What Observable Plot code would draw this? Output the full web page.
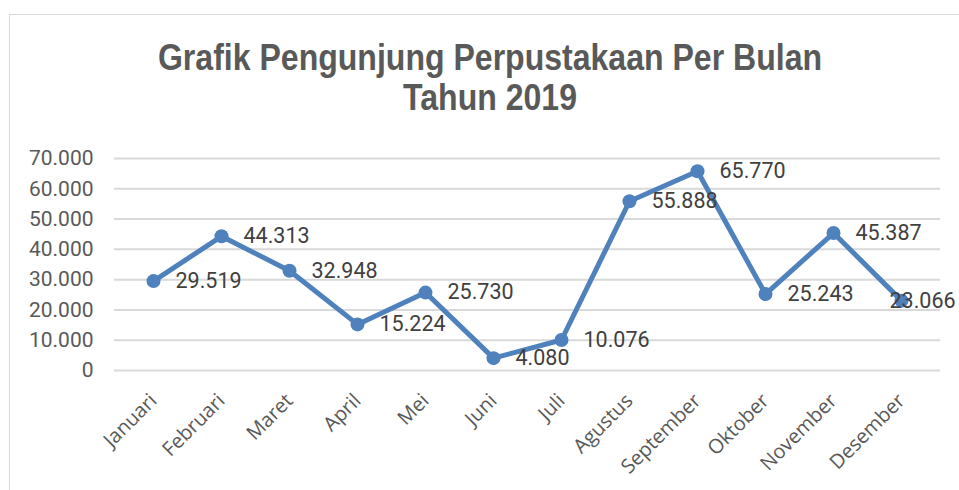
<!DOCTYPE html>
<html><head><meta charset="utf-8">
<script src="https://cdn.jsdelivr.net/npm/d3@7"></script>
<script src="https://cdn.jsdelivr.net/npm/@observablehq/plot@0.6"></script>
<style>
html,body{margin:0;padding:0;background:#fff;overflow:hidden;}
#wrap{position:relative;width:959px;height:490px;overflow:hidden;}
#frame{position:absolute;left:9px;top:14px;width:1000px;height:520px;border:1.5px solid #d9d9d9;box-sizing:border-box;}
#title{position:absolute;left:0;top:38px;width:980px;text-align:center;font-family:"Liberation Sans",Arial,sans-serif;font-weight:bold;font-size:36px;line-height:40px;color:#595959;transform:scaleX(0.89);transform-origin:490px 0;}
#chart{position:absolute;left:0;top:140px;}
</style></head>
<body><div id="wrap"><div id="frame"></div>
<div id="title">Grafik Pengunjung Perpustakaan Per Bulan<br>Tahun 2019</div>
<div id="chart"></div></div>
<script>
const months = ["Januari","Februari","Maret","April","Mei","Juni","Juli","Agustus","September","Oktober","November","Desember"];
const visitors = [29519,44313,32948,15224,25730,4080,10076,55888,65770,25243,45387,23066];
const yTicks = [0,10000,20000,30000,40000,50000,60000,70000];

const data = months.map((m,i)=>({month:m, value:visitors[i]}));
const fmt = v => v.toLocaleString("de-DE");

const plot = Plot.plot({
  width: 959, height: 350,
  marginTop: 18, marginBottom: 120, marginLeft: 114, marginRight: 19,
  style: {fontFamily: "Roboto, sans-serif", color: "#595959", background: "transparent", overflow: "visible"},
  x: {type: "point", domain: months, padding: 0.5, label: null},
  y: {domain: [0,70000], label: null},
  marks: [
    Plot.ruleY(yTicks, {stroke: "#d9d9d9", strokeWidth: 2}),
    Plot.axisY(yTicks, {tickSize: 0, tickPadding: 21, tickFormat: fmt, fontSize: 21, fill: "#595959", label: null}),
    Plot.axisX({tickSize: 0, tickRotate: -45, tickPadding: 27, fontSize: 20, fontFamily: "Open Sans, sans-serif", fill: "#595959", label: null}),
    Plot.line(data, {x: "month", y: "value", stroke: "#4F81BD", strokeWidth: 5, strokeLinejoin: "round"}),
    Plot.dot(data, {x: "month", y: "value", r: 7, fill: "#4F81BD", stroke: "none"}),
    Plot.text(data, {x: "month", y: "value", text: d => fmt(d.value), textAnchor: "start", fontSize: 21.5, fill: "#404040",
      dx: 22, filter: d => d.month !== "Desember"}),
    Plot.text(data, {x: "month", y: "value", text: d => fmt(d.value), textAnchor: "start", fontSize: 21.5, fill: "#404040",
      dx: -12, filter: d => d.month === "Desember"})
  ]
});
document.getElementById("chart").appendChild(plot);
</script></body></html>
